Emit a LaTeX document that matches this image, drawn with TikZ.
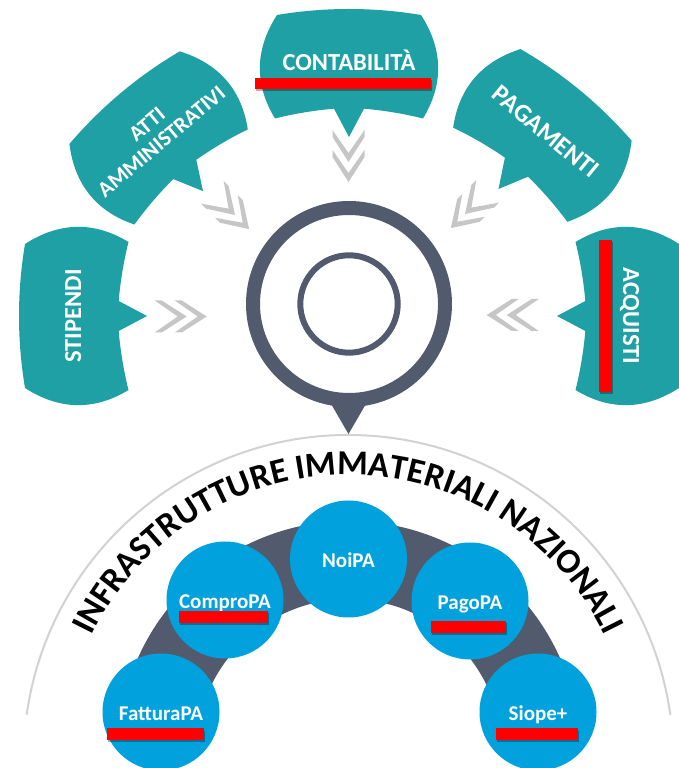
\documentclass[tikz,border=0pt]{standalone}
\usepackage{fontspec}
\setmainfont{Carlito}
\usepackage{xcolor}
\usepackage{tikz}
\usetikzlibrary{decorations.text}
\definecolor{bubbleTeal}{HTML}{1FA0A4}
\definecolor{serviceBlue}{HTML}{00A1DC}
\definecolor{ringSlate}{HTML}{525A6E}
\definecolor{arcGray}{HTML}{D2D2D2}
\newcommand{\drawBubble}[7]{% center: x,y; rotation; name; label; baseline; font size
  \begin{scope}[shift={(#1,#2)},rotate=#3]
    \fill[bubble] (-72,52) .. controls (-24,60) and (24,60) .. (72,52)
      .. controls (94,18) and (95,-17) .. (74,-51.5)
      .. controls (54,-46.5) and (34,-43.3) .. (15,-41.7)
      -- (0,-70) -- (-15,-41.7)
      .. controls (-34,-43.3) and (-54,-46.5) .. (-74,-51.5)
      .. controls (-95,-17) and (-94,18) .. (-72,52) -- cycle;
    \node[bubbletext,rotate=#3,font=\bfseries\fontsize{#7}{22.5}\selectfont] (#4) at (0,#6) {#5};
  \end{scope}
}
\newcommand{\drawChevrons}[3]{% first tip: x,y; direction
  \begin{scope}[shift={(#1,#2)},rotate=#3]
    \foreach \d in {0,20}
      \fill[chevron] (\d,0) -- (\d-25,16) -- (\d-32,16) -- (\d-9,0)
        -- (\d-32,-16) -- (\d-25,-16) -- cycle;
  \end{scope}
}
\newcommand{\drawService}[4]{% center: x,y; name; label
  \fill[serviceBlue] (#1,#2) circle (58.5);
  \node[servicetext] (#3) at (#1,#2-9) {#4};
}
\newcommand{\drawRedBar}[4]{% lower left, upper right
  \fill[black,opacity=0.3] (#1+1,#2-2.5) rectangle (#3+1,#4-2.5);
  \fill[red] (#1,#2) rectangle (#3,#4);
}

\begin{document}
\begin{tikzpicture}[x=1pt,y=1pt,
  bubble/.style={fill=bubbleTeal},
  bubbletext/.style={text=white,inner sep=0pt,anchor=base,align=center},
  chevron/.style={fill=gray!45},
  servicetext/.style={text=white,font=\bfseries\fontsize{21}{24}\selectfont,inner sep=0pt,anchor=base}]
\clip (0,0) rectangle (679,768);
\fill[white] (0,0) rectangle (679,768);

% Outer guide arc
\draw[arcGray,line width=2pt] (348.5,8) ++(172:325) arc[start angle=172,end angle=8,radius=325pt];

% Band behind the services
\draw[ringSlate,line width=78pt] (349,16) ++(168:192) arc[start angle=168,end angle=12,radius=192pt];

% Services
\drawService{161}{56}{fattura}{FatturaPA}
\drawService{225}{168}{compro}{ComproPA}
\drawService{348.5}{209}{noi}{NoiPA}
\drawService{470}{167}{pago}{PagoPA}
\drawService{538}{56}{siope}{Siope+}

% Target
\draw[ringSlate,line width=14pt] (349,464) circle (96);
\draw[ringSlate,line width=6pt] (349,464) circle (48.7);
\fill[ringSlate] (327.6,370) -- (369.4,370) -- (348.5,334) -- cycle;

% Bubbles
\drawBubble{349}{701}{0}{contab}{CONTABILITÀ}{-4}{24.5}
\drawBubble{158}{630.5}{40}{atti}{ATTI\\AMMINISTRATIVI}{-12.5}{22}
\drawBubble{543}{633}{-39.5}{pagam}{PAGAMENTI}{-4}{25.5}
\drawBubble{77}{452}{90}{stip}{STIPENDI}{-4}{24.5}
\drawBubble{627}{452}{-90}{acq}{ACQUISTI}{-4}{24.5}

% Chevrons
\drawChevrons{348.5}{606}{-90}
\drawChevrons{235}{553}{-45}
\drawChevrons{465}{554}{-135}
\drawChevrons{186.7}{451.5}{0}
\drawChevrons{506.7}{453}{180}

% Title along the arc
\path[decorate,decoration={text along path,text align=center,
  text={|\bfseries\fontsize{35}{40}\selectfont|INFRASTRUTTURE IMMATERIALI NAZIONALI}}]
  (348.5,8) ++(170:285) arc[start angle=170,end angle=10,radius=285pt];

% Red bars
\drawRedBar{255}{679}{430.7}{690}
\drawRedBar{599.3}{376.3}{611.7}{528}
\drawRedBar{179.3}{145.3}{267.7}{157.3}
\drawRedBar{106.7}{28}{204}{39.7}
\drawRedBar{431}{135.3}{506}{147}
\drawRedBar{496}{28}{578}{39.7}
\end{tikzpicture}
\end{document}
